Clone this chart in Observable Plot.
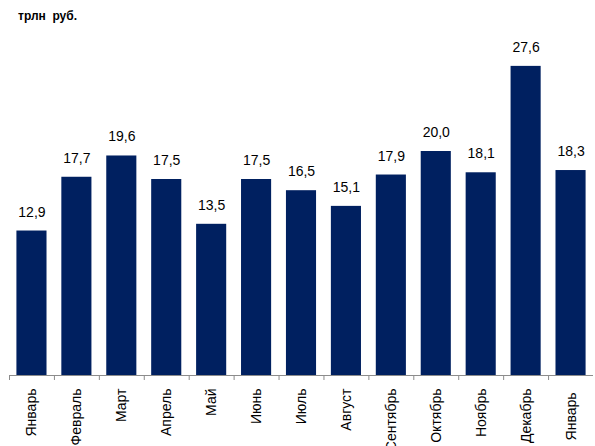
<!DOCTYPE html>
<html><head><meta charset="utf-8">
<script src="https://cdn.jsdelivr.net/npm/d3@7"></script>
<script src="https://cdn.jsdelivr.net/npm/@observablehq/plot@0.6"></script>
<style>
body{margin:0;background:#fff;}
#wrap{position:relative;width:595px;height:446px;overflow:hidden;}
#title{position:absolute;left:18px;top:9px;font:bold 12px "Liberation Sans",Arial,sans-serif;color:#000;}
</style></head>
<body><div id="wrap"><div id="title">трлн&nbsp; руб.</div></div>
<script>
const months = ["Январь","Февраль","Март","Апрель","Май","Июнь","Июль","Август","Сентябрь","Октябрь","Ноябрь","Декабрь","Январь "];
const values = [12.9,17.7,19.6,17.5,13.5,17.5,16.5,15.1,17.9,20.0,18.1,27.6,18.3];
const data = months.map((m,i)=>({m, v: values[i]}));
const fmt = v => v.toFixed(1).replace(".", ",");
const step = (595-9-2)/13;
const chart = Plot.plot({
  width: 595, height: 446,
  marginLeft: 9, marginRight: 2, marginTop: 39, marginBottom: 71,
  style: {fontFamily: '"Liberation Sans", Arial, sans-serif', background: "transparent"},
  x: {domain: months, paddingInner: 0.33, paddingOuter: 0.165, round: false, label: null},
  y: {domain: [0, 30], axis: null},
  marks: [
    Plot.barY(data, {x: "m", y: "v", fill: "#002060"}),
    Plot.text(data, {x: "m", y: "v", text: d => fmt(d.v), dy: -19, fontSize: 14, fill: "#000"}),
    Plot.ruleY([0], {stroke: "#8c8c8c", strokeWidth: 1.2}),
    Plot.axisX({tickSize: 5, text: null, dx: -step/2, stroke: "#8c8c8c"}),
    Plot.axisX({tickSize: 0, tickPadding: 13, tickRotate: -90, fontSize: 14, fill: "#000", label: null})
  ]
});
document.getElementById("wrap").appendChild(chart);
</script></body></html>
